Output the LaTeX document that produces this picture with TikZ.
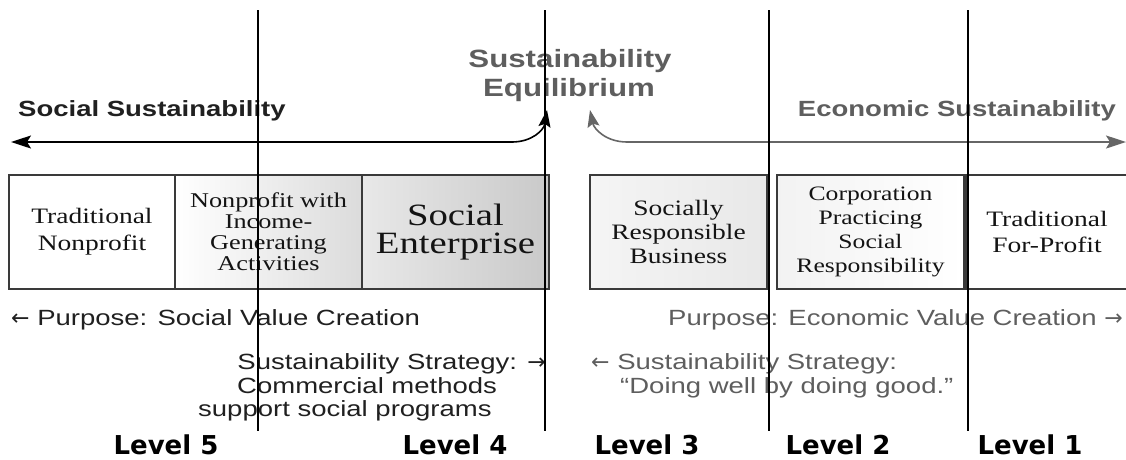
\documentclass[tikz,border=0pt]{standalone}
\usepackage{fontspec}
\usetikzlibrary{arrows.meta}
\newfontfamily\arialx{Liberation Sans}[FakeStretch=1.25]
\newfontfamily\serifx{Liberation Serif}[FakeStretch=1.25]
\newfontfamily\verdx{DejaVu Sans}
\newfontfamily\arrf{DejaVu Sans}
\newcommand{\la}{{\arrf ←}}
\newcommand{\ra}{{\arrf →}}
\definecolor{dg}{HTML}{202020}
\definecolor{lg}{HTML}{5E5E5E}
\definecolor{ag}{HTML}{666666}
\definecolor{bd}{HTML}{3A3A3A}
\begin{document}
\begin{tikzpicture}[x=1pt,y=-1pt,
  box/.style={draw=bd, line width=1.3pt, minimum height=114pt, inner sep=0pt, align=center, text=black!92},
  lab/.style={inner sep=0pt, font=\arialx\fontsize{22}{24}\selectfont},
  labb/.style={inner sep=0pt, font=\arialx\bfseries\fontsize{22}{24}\selectfont},
  lvl/.style={inner sep=0pt, anchor=base, font=\verdx\bfseries\fontsize{26}{28}\selectfont},
  vline/.style={line width=2pt, black},
  tipL/.tip={Stealth[length=20pt,width=13pt,inset=4pt]},
  tipS/.tip={Stealth[length=17pt,width=12pt,inset=3pt]}]
\clip (0,0) rectangle (1126,459);
\fill[white] (0,0) rectangle (1126,459);

% boxes
\node[box, minimum width=166pt, font=\serifx\fontsize{22}{27}\selectfont] (b1) at (92,232) {Traditional\\Nonprofit};
\node[box, minimum width=187pt, left color=white, middle color=white, right color=black!14, font=\serifx\fontsize{21}{21}\selectfont] (b2) at (268.5,232) {Nonprofit with\\Income-\\Generating\\Activities};
\node[box, minimum width=187pt, left color=black!9, right color=black!21, font=\serifx\fontsize{31}{28}\selectfont] (b3) at (455.5,232) {Social\\Enterprise};
\node[box, minimum width=177pt, left color=black!4, right color=black!9, font=\serifx\fontsize{22}{24}\selectfont] (b4) at (678.5,232) {Socially\\Responsible\\Business};
\node[box, minimum width=187pt, left color=black!5, right color=white, font=\serifx\fontsize{20.5}{24}\selectfont] (b5) at (870.5,232) {Corporation\\Practicing\\Social\\Responsibility};
\node[box, minimum width=162pt, font=\serifx\fontsize{22}{26}\selectfont] (b6) at (1047,232) {Traditional\\For-Profit};

% arrows
\coordinate (la) at (11,142);
\coordinate (lb) at (512,142);
\coordinate (lc) at (547,110);
\draw[line width=1.6pt, black, {tipL}-{tipS}] (la) -- (lb) .. controls (532,142) and (544,130) .. (lc);
\coordinate (rt) at (590,110);
\coordinate (ra) at (627,142);
\coordinate (rb) at (1126,142);
\draw[line width=1.6pt, ag, {tipS}-{tipL}] (rt) .. controls (594,129) and (606,142) .. (ra) -- (rb);

% headings
\node[labb, anchor=base west, text=dg] (soc) at (18,116) {Social Sustainability};
\node[labb, anchor=base east, text=lg] (eco) at (1116,116) {Economic Sustainability};
\node[inner sep=0pt, anchor=base, text=lg, font=\arialx\bfseries\fontsize{25}{27}\selectfont] (eq1) at (570,67) {Sustainability};
\node[inner sep=0pt, anchor=base, text=lg, font=\arialx\bfseries\fontsize{25}{27}\selectfont] (eq2) at (569,96) {Equilibrium};

% purpose
\node[lab, anchor=base west, text=dg] (pl) at (11,325) {\la\ Purpose: Social Value Creation};
\node[lab, anchor=base east, text=lg] (pr) at (1123,325) {Purpose: Economic Value Creation \ra};

% strategies
\node[lab, anchor=base east, text=dg] (sl1) at (546,369) {Sustainability Strategy: \ra};
\node[lab, anchor=base west, text=dg] (sl2) at (237,393) {Commercial methods};
\node[lab, anchor=base west, text=dg] (sl3) at (198,416) {support social programs};
\node[lab, anchor=base west, text=lg] (sr1) at (591,369) {\la\ Sustainability Strategy:};
\node[lab, anchor=base west, text=lg] (sr2) at (620,393) {“Doing well by doing good.”};

% level lines
\coordinate (v1t) at (258,10);  \coordinate (v1b) at (258,431);
\coordinate (v2t) at (545,10);  \coordinate (v2b) at (545,431);
\coordinate (v3t) at (769,10);  \coordinate (v3b) at (769,431);
\coordinate (v4t) at (968,10);  \coordinate (v4b) at (968,431);
\draw[vline] (v1t) -- (v1b);
\draw[vline] (v2t) -- (v2b);
\draw[vline] (v3t) -- (v3b);
\draw[vline] (v4t) -- (v4b);

% levels
\node[lvl] (l5) at (166,454) {Level 5};
\node[lvl] (l4) at (455,454) {Level 4};
\node[lvl] (l3) at (647,454) {Level 3};
\node[lvl] (l2) at (838,454) {Level 2};
\node[lvl] (l1) at (1030,454) {Level 1};
\end{tikzpicture}
\end{document}
